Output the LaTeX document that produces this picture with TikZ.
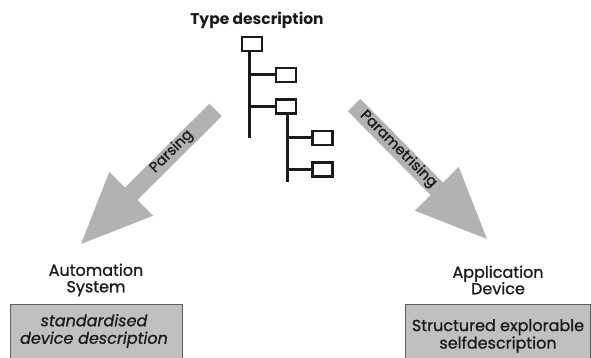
\documentclass[tikz,border=0pt]{standalone}
\usepackage{fontspec}
\setmainfont{Poppins}
\newfontfamily\medium{Poppins}[FakeBold=0.9]
\usetikzlibrary{calc}
\definecolor{arrowgray}{RGB}{178,178,178}
\definecolor{boxgray}{RGB}{192,192,192}
\definecolor{ink}{RGB}{30,25,25}

\begin{document}
\begin{tikzpicture}[x=1pt,y=-1pt,
  treebox/.style={draw=ink, line width=2.2pt, fill=white, minimum width=20pt, minimum height=14pt, inner sep=0pt},
  treeline/.style={draw=ink, line width=3pt},
  flowarrow/.style={fill=arrowgray},
  arrowlabel/.style={font=\medium\fontsize{14.5}{16}\selectfont, text=ink, inner sep=0pt},
  caption/.style={font=\medium\fontsize{16}{16.5}\selectfont, align=center, text=ink, inner sep=0pt},
  desctext/.style={font=\medium\fontsize{16}{17.5}\selectfont, align=center, text=ink, inner sep=0pt},
  descbox/.style={draw=ink!70, line width=0.8pt, fill=boxgray}
]
\useasboundingbox (0,0) rectangle (591,358);

% title of the type tree
\node[font=\bfseries\fontsize{15.5}{17}\selectfont, text=ink, inner sep=0pt] (title) at (257,20) {Type description};

% tree of type elements
\node[treebox] (b1) at (252,44) {};
\node[treebox] (b2) at (286,75) {};
\node[treebox] (b3) at (286,106.5) {};
\node[treebox] (b4) at (322.5,138) {};
\node[treebox] (b5) at (322.5,169.5) {};
\coordinate (t1end) at (249,138);
\coordinate (t2end) at (287,182);
\draw[treeline] (b1.south -| t1end) -- (t1end);
\draw[treeline] (b2.west -| t1end) -- (b2.west);
\draw[treeline] (b3.west -| t1end) -- (b3.west);
\draw[treeline] (b3.south -| t2end) -- (t2end);
\draw[treeline] (b4.west -| t2end) -- (b4.west);
\draw[treeline] (b5.west -| t2end) -- (b5.west);

% parsing arrow (down to the left)
\fill[flowarrow] (221.7,116.2) -- (209.3,103.8) -- (125,187.6) -- (109.3,171.9)
  -- (81,244) -- (153.1,215.7) -- (137.4,200) -- cycle;
\node[arrowlabel, rotate=45] (parse) at (171.7,151.7) {Parsing};

% parametrising arrow (down to the right)
\fill[flowarrow] (347.8,111.2) -- (360.2,98.8) -- (443,182.6) -- (458.7,166.9)
  -- (487,239) -- (414.9,210.7) -- (430.6,195) -- cycle;
\node[arrowlabel, rotate=-45] (param) at (398.3,149.3) {Parametrising};

% automation system
\node[caption] (auto) at (96,280) {Automation\\System};
\draw[descbox] (10,304) rectangle (182,370);
\node[desctext, font=\medium\itshape\fontsize{16}{17.5}\selectfont] (std) at (94,331) {standardised\\device description};

% application device
\node[caption] (app) at (498,280) {Application\\Device};
\draw[descbox] (405,304) rectangle (590,370);
\node[desctext] (self) at (498,336) {Structured explorable\\selfdescription};
\end{tikzpicture}
\end{document}
